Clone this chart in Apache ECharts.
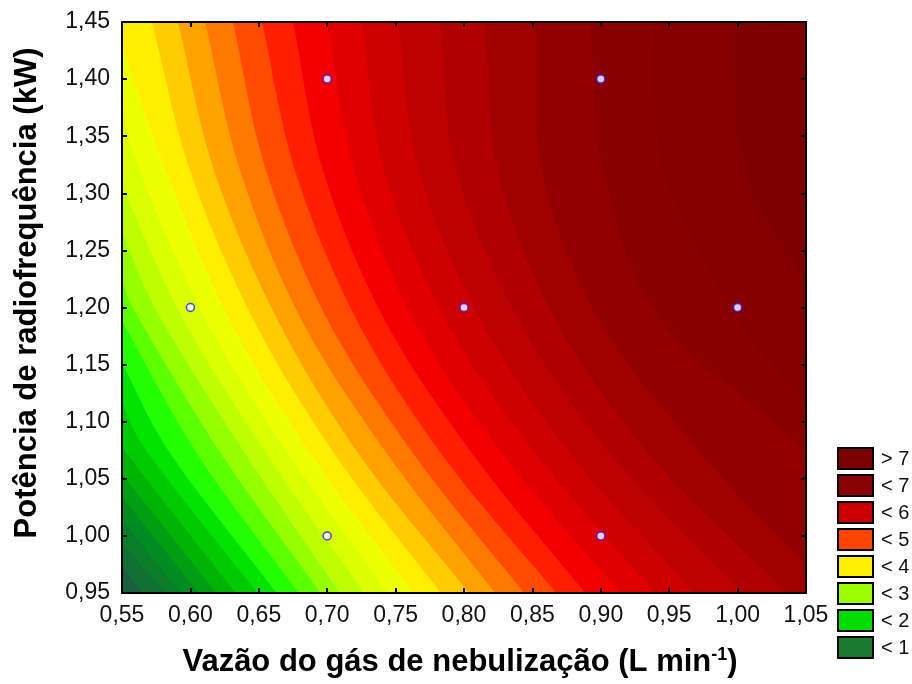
<!DOCTYPE html>
<html><head><meta charset="utf-8">
<script src="https://cdn.jsdelivr.net/npm/echarts@6/dist/echarts.min.js"></script>
<style>html,body{margin:0;padding:0;background:#fff}#c{width:912px;height:684px}</style>
</head><body><div id="c"></div>
<script>
// ---- axes ----
const xMin = 0.55, xMax = 1.05, xStep = 0.05;
const yMin = 0.95, yMax = 1.45, yStep = 0.05;

// ---- design points (white dots) ----
const designX = [0.60, 0.70, 0.70, 0.80, 0.90, 0.90, 1.00];
const designY = [1.20, 1.00, 1.40, 1.20, 1.00, 1.40, 1.20];

// ---- contour levels and their boundary curves [x, y] ----
const levels = [0.5, 0.75, 1.0, 1.25, 1.5, 1.75, 2.0, 2.25, 2.5, 2.75, 3.0, 3.25, 3.5, 3.75,
                4.0, 4.25, 4.5, 4.75, 5.0, 5.25, 5.5, 5.75, 6.0, 6.25, 6.5, 6.75, 7.0, 7.25, 7.5];
const iso_0_50 = [[0.55, 0.974], [0.565, 0.95]];
const iso_0_75 = [[0.55, 0.994], [0.581, 0.95]];
const iso_1_00 = [[0.55, 1.014], [0.593, 0.95]];
const iso_1_25 = [[0.55, 1.034], [0.606, 0.95]];
const iso_1_50 = [[0.55, 1.054], [0.619, 0.95]];
const iso_1_75 = [[0.55, 1.080], [0.5548, 1.07], [0.633, 0.95]];
const iso_2_00 = [[0.55, 1.116], [0.5705, 1.07], [0.649, 0.95]];
const iso_2_25 = [[0.55, 1.151], [0.5865, 1.07], [0.663, 0.95]];
const iso_2_50 = [[0.55, 1.188], [0.6059, 1.07], [0.679, 0.95]];
const iso_2_75 = [[0.55, 1.223], [0.5624, 1.19], [0.6235, 1.07], [0.695, 0.95]];
const iso_3_00 = [[0.55, 1.264], [0.5785, 1.19], [0.6411, 1.07], [0.709, 0.95]];
const iso_3_25 = [[0.55, 1.306], [0.5946, 1.19], [0.6567, 1.07], [0.727, 0.95]];
const iso_3_50 = [[0.55, 1.374], [0.5628, 1.32], [0.6107, 1.19], [0.6728, 1.07], [0.744, 0.95]];
const iso_3_75 = [[0.55, 1.430], [0.5822, 1.32], [0.6282, 1.19], [0.6889, 1.07], [0.763, 0.95]];
const iso_4_00 = [[0.5719, 1.45], [0.5997, 1.32], [0.6458, 1.19], [0.7064, 1.07], [0.783, 0.95]];
const iso_4_25 = [[0.5909, 1.45], [0.6173, 1.32], [0.6633, 1.19], [0.7240, 1.07], [0.8037, 0.95]];
const iso_4_50 = [[0.6107, 1.45], [0.6363, 1.32], [0.6808, 1.19], [0.7449, 1.07], [0.8227, 0.95]];
const iso_4_75 = [[0.6311, 1.45], [0.6553, 1.32], [0.6999, 1.19], [0.7642, 1.07], [0.8439, 0.95]];
const iso_5_00 = [[0.6523, 1.45], [0.6765, 1.32], [0.7211, 1.19], [0.7846, 1.07], [0.8673, 0.95]];
const iso_5_25 = [[0.6750, 1.45], [0.6969, 1.32], [0.7415, 1.19], [0.8073, 1.07], [0.8885, 0.95]];
const iso_5_50 = [[0.6999, 1.45], [0.7197, 1.32], [0.7627, 1.19], [0.8292, 1.07], [0.9141, 0.95]];
const iso_5_75 = [[0.7254, 1.45], [0.7415, 1.32], [0.7861, 1.19], [0.8534, 1.07], [0.9397, 0.95]];
const iso_6_00 = [[0.7518, 1.45], [0.7671, 1.32], [0.8117, 1.19], [0.8789, 1.07], [0.9682, 0.95]];
const iso_6_25 = [[0.7825, 1.45], [0.7942, 1.32], [0.8395, 1.19], [0.9078, 1.07], [1.0035, 0.95]];
const iso_6_50 = [[0.8154, 1.45], [0.8249, 1.32], [0.8665, 1.19], [0.9367, 1.07], [1.0357, 0.95]];
const iso_6_75 = [[0.8519, 1.45], [0.8570, 1.32], [0.8980, 1.19], [0.9747, 1.07], [1.05, 0.975]];
const iso_7_00 = [[0.8921, 1.45], [0.9016, 1.32], [0.9433, 1.19], [1.05, 1.075]];
const iso_7_25 = [[0.9382, 1.45], [0.9462, 1.32], [1.0005, 1.19], [1.05, 1.115]];
const iso_7_50 = [[0.9969, 1.45], [1.0056, 1.32], [1.05, 1.22]];
const isolines = [iso_0_50, iso_0_75, iso_1_00, iso_1_25, iso_1_50, iso_1_75, iso_2_00, iso_2_25,
  iso_2_50, iso_2_75, iso_3_00, iso_3_25, iso_3_50, iso_3_75, iso_4_00, iso_4_25, iso_4_50,
  iso_4_75, iso_5_00, iso_5_25, iso_5_50, iso_5_75, iso_6_00, iso_6_25, iso_6_50, iso_6_75,
  iso_7_00, iso_7_25, iso_7_50];

// ---- legend ----
const legendLabels = ['> 7', '< 7', '< 6', '< 5', '< 4', '< 3', '< 2', '< 1'];

// ---- styles ----
const baseColor = '#1b5f3d';   // below the lowest level
const bandColors = ['#117033', '#0a7d2b', '#008c20', '#009e12', '#00b406', '#00ca00', '#00e400',
  '#22ff00', '#5cff00', '#95ff00', '#bdff00', '#d9ff00', '#eeff00', '#ffee00', '#ffcc00', '#ffa200',
  '#ff7800', '#ff4a00', '#ff1e00', '#f50000', '#e00000', '#cf0000', '#bf0000', '#b00000', '#a00000',
  '#930000', '#8a0000', '#840000', '#7e0000'];
const legendColors = ['#7a0000', '#8b0000', '#cc0000', '#ff4400', '#ffee00', '#99ff00', '#00dd00', '#1a7a30'];
const FONT = 'Liberation Sans, Arial, sans-serif';

function catmull(pts, n) {
  if (pts.length < 2) return pts.slice();
  const out = [pts[0]];
  for (let i = 0; i < pts.length - 1; i++) {
    const p1 = pts[i], p2 = pts[i + 1];
    const p0 = i > 0 ? pts[i - 1] : [2 * p1[0] - p2[0], 2 * p1[1] - p2[1]];
    const p3 = i + 2 < pts.length ? pts[i + 2] : [2 * p2[0] - p1[0], 2 * p2[1] - p1[1]];
    for (let k = 1; k <= n; k++) {
      const t = k / n, t2 = t * t, t3 = t2 * t;
      const f = (a, b, c, d) => 0.5 * (2 * b + (-a + c) * t + (2 * a - 5 * b + 4 * c - d) * t2 + (-a + 3 * b - 3 * c + d) * t3);
      out.push([f(p0[0], p1[0], p2[0], p3[0]), f(p0[1], p1[1], p2[1], p3[1])]);
    }
  }
  return out;
}

const chart = echarts.init(document.getElementById('c'), null, {renderer: 'canvas'});
const fmt = v => v.toFixed(2).replace('.', ',');
const axisCommon = {
  type: 'value', z: 10,
  axisLine: {show: true, onZero: false, lineStyle: {color: '#000', width: 2}},
  axisTick: {show: true, inside: true, length: 5, lineStyle: {color: '#000', width: 2}},
  splitLine: {show: false}
};

const legendGraphics = [];
legendLabels.forEach((lab, i) => {
  const y0 = 448 + i * 27;
  legendGraphics.push({type: 'rect', z: 100, shape: {x: 838, y: y0, width: 35, height: 21},
    style: {fill: legendColors[i], stroke: '#000', lineWidth: 2}});
  legendGraphics.push({type: 'text', z: 100, x: 881, y: y0 + 11,
    style: {text: lab, fill: '#111', font: '20px ' + FONT, textVerticalAlign: 'middle', textAlign: 'left'}});
});

chart.setOption({
  animation: false,
  grid: {left: 122, right: 106, top: 22, bottom: 91, show: true, backgroundColor: baseColor, borderWidth: 0},
  xAxis: [
    Object.assign({}, axisCommon, {min: xMin, max: xMax, interval: xStep, position: 'bottom',
      axisLabel: {show: true, formatter: fmt, margin: 11, color: '#111', fontSize: 23, fontFamily: FONT,
        showMinLabel: true, showMaxLabel: true}}),
    Object.assign({}, axisCommon, {min: xMin, max: xMax, interval: xStep, position: 'top',
      axisLabel: {show: false}})
  ],
  yAxis: [
    Object.assign({}, axisCommon, {min: yMin, max: yMax, interval: yStep, position: 'left',
      axisLabel: {show: true, formatter: fmt, margin: 12, color: '#111', fontSize: 23, fontFamily: FONT,
        showMinLabel: true, showMaxLabel: true}}),
    Object.assign({}, axisCommon, {min: yMin, max: yMax, interval: yStep, position: 'right',
      axisLabel: {show: false}})
  ],
  series: [
    {
      type: 'custom', clip: true, z: 2, silent: true,
      data: isolines.map((_, i) => [0.8, 1.2, i]),
      renderItem: function (params, api) {
        const idx = api.value(2);
        const line = isolines[idx];
        const px = line.map(p => api.coord(p));
        let poly = catmull(px, 16);
        const first = line[0], last = line[line.length - 1];
        const tail = [];
        if (last[1] === yMin) tail.push([xMax, yMin]);
        tail.push([xMax, yMax]);
        if (first[0] === xMin) tail.push([xMin, yMax]);
        poly = poly.concat(tail.map(p => api.coord(p)));
        return {type: 'polygon', shape: {points: poly}, style: {fill: bandColors[idx]}};
      }
    },
    {
      type: 'scatter', z: 5, symbol: 'circle', symbolSize: 8,
      data: designX.map((x, i) => [x, designY[i]]),
      itemStyle: {color: '#ffffff', borderColor: '#1a1aff', borderWidth: 1.5}
    }
  ],
  graphic: legendGraphics.concat([
    {type: 'text', z: 100, x: 27, y: 293, rotation: Math.PI / 2,
      style: {text: 'Potência de radiofrequência (kW)', fill: '#000', font: 'bold 31px ' + FONT,
        textAlign: 'center', textVerticalAlign: 'middle'}},
    {type: 'text', z: 100, x: 460, y: 662,
      style: {text: 'Vazão do gás de nebulização (L min{sup|-1})', fill: '#000', font: 'bold 31px ' + FONT,
        textAlign: 'center', textVerticalAlign: 'middle',
        rich: {sup: {fontSize: 18, fontWeight: 'bold', fontFamily: FONT, fill: '#000', verticalAlign: 'top'}}}}
  ])
});
</script></body></html>
